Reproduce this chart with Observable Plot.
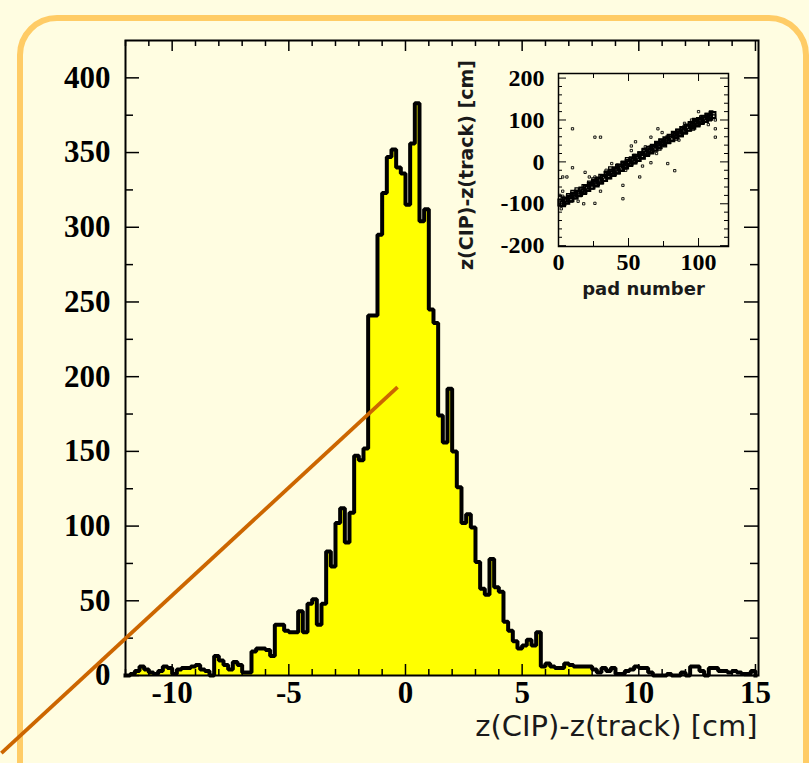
<!DOCTYPE html>
<html><head><meta charset="utf-8">
<script src="https://cdn.jsdelivr.net/npm/d3@7"></script>
<script src="https://cdn.jsdelivr.net/npm/@observablehq/plot@0.6"></script>
<style>
html,body{margin:0;padding:0;background:#FFFDE1;width:809px;height:763px;overflow:hidden;}
#border{position:absolute;left:17px;top:15px;width:780px;height:820px;border:6px solid #FFCC66;border-radius:40px;box-sizing:content-box;}
#main{position:absolute;left:0;top:0;}
#inset{position:absolute;left:440px;top:50px;}
svg{overflow:visible;}
</style></head><body>
<div id="border"></div><div id="main"></div><div id="inset"></div>
<script>
// ---- main histogram data ----
const binStart = -12;
const binWidth = 0.2;
const counts = [
  0,1,3,6,4,2,1,3,6,5,
  1,4,5,5,6,7,4,3,0,13,
  10,7,4,9,7,2,2,16,18,18,
  17,13,34,34,30,29,29,43,29,48,
  51,34,48,83,73,102,112,89,109,147,
  144,152,241,241,295,323,347,352,340,336,
  315,356,383,304,312,245,236,174,156,192,
  150,126,102,108,99,76,58,54,78,59,
  56,36,30,23,18,20,24,20,29,6,
  8,6,5,5,8,7,6,6,6,6,
  4,2,5,3,5,1,1,3,4,6,
  5,5,2,0,0,0,1,0,0,2,
  0,6,6,3,0,5,5,3,3,2,
  3,2,1,1,3
];
const fillEnd = 8;          // yellow fill up to this x
const xRange = [-12, 15.13];
const yRange = [0, 425];
const xMajor = [-10, -5, 0, 5, 10, 15];
const xLabels = ["-10", "-5", "0", "5", "10", "15"];
const xMinor = [-12,-11,-9,-8,-7,-6,-4,-3,-2,-1,1,2,3,4,6,7,8,9,11,12,13,14];
const yMajor = [0, 50, 100, 150, 200, 250, 300, 350, 400];
const yLabels = ["0", "50", "100", "150", "200", "250", "300", "350", "400"];
const yMinor = [25, 75, 125, 175, 225, 275, 325, 375];
const xTitle = "z(CIP)-z(track) [cm]";
const pointer = [{x1: -17.32, y1: -52, x2: -0.34, y2: 193}];

// ---- inset scatter data ----
const bandPad = [2,5,8,11,14,17,20,23,26,29,32,35,38,41,44,47,50,53,56,59,62,65,68,71,74,77,80,83,86,89,92,95,98,101,104,107,110];
const bandZ   = [-97,-92,-87,-80,-75,-68,-62,-57,-50,-44,-38,-31,-25,-20,-13,-7,-2,4,10,16,23,29,34,41,47,52,58,65,70,76,82,88,93,98,103,108,112];
const band2Pad = [3,6,9,12,15,18,21,24,27,30,33,36,39,42,45,48,51,54,57,60,63,66,69,72,75,78,81,84,87,90,93,96,99,102,105,108];
const band2Z   = [-100,-94,-88,-82,-76,-71,-64,-58,-53,-46,-40,-34,-28,-22,-16,-10,-4,2,8,13,20,26,32,38,44,50,55,62,67,73,80,85,90,96,101,106];
const nearPad = [3,4,7,9,10,12,13,16,18,19,22,24,25,28,30,31,34,36,37,40,42,43,46,48,49,52,54,55,58,60,61,64,66,67,70,72,73,76,78,79,82,84,85,88,90,91,94,96,97,100,102,103,106,108,109,111];
const nearZ   = [-88,-100,-80,-92,-72,-84,-66,-76,-58,-72,-50,-60,-42,-52,-34,-48,-26,-36,-16,-28,-10,-24,-2,-12,6,-4,14,2,20,12,28,20,34,26,42,32,50,40,58,48,66,56,74,64,82,72,90,80,100,90,106,96,112,102,118,108];
const outPad  = [10,26,30,55,71,78,83,10,3,6,19,22,26,26,46,46,58,3,3,2,112,112,112,107,52,52,62,66,83,34,42,38,48,74,90,100,60,66,86,30,14,18,1,70,95];
const outZ    = [79,59,59,48,79,-4,-21,-14,-36,-36,-25,-36,-36,-99,-88,-56,-36,-70,-82,-112,79,59,100,89,38,27,36,59,69,-20,-8,-4,-20,70,92,120,-10,-2,52,-70,-94,-100,-80,20,100];
const insetXTicks = [0, 50, 100];
const insetXLabels = ["0", "50", "100"];
const insetXMinor = [25, 75];
const insetYTicks = [-200, -100, 0, 100, 200];
const insetYLabels = ["-200", "-100", "0", "100", "200"];
const insetYMinor = [-180,-160,-140,-120,-80,-60,-40,-20,20,40,60,80,120,140,160,180];
const insetYTitle = "z(CIP)-z(track) [cm]";
const insetXTitle = "pad number";

// ---- build tables ----
const bins = counts.map((c, i) => ({x: +(binStart + i * binWidth).toFixed(2), y: c}));
const lastEdge = +(binStart + counts.length * binWidth).toFixed(2);
const fillPts = bins.filter(d => d.x < fillEnd - 1e-9);
fillPts.push({x: fillEnd, y: fillPts[fillPts.length - 1].y});
const outline = [{x: binStart, y: 0}, ...bins, {x: lastEdge, y: counts[counts.length - 1]}, {x: lastEdge, y: 0}];

const serif = "Liberation Serif";
const W = 809, H = 763, mL = 125, mR = 51, mT = 40, mB = 88;
const fw = W - mL - mR, fh = H - mT - mB;

const main = Plot.plot({
  width: W, height: H,
  marginLeft: mL, marginRight: mR, marginTop: mT, marginBottom: mB,
  style: {background: "transparent", overflow: "visible"},
  x: {domain: xRange, axis: null},
  y: {domain: yRange, axis: null},
  marks: [
    Plot.areaY(fillPts, {x: "x", y: "y", curve: "step-after", fill: "#FFFF00"}),
    Plot.line(outline, {x: "x", y: "y", curve: "step-after", stroke: "black", strokeWidth: 4, strokeLinejoin: "miter", strokeLinecap: "square"}),
    Plot.tickX(xMinor, {x: d => d, insetTop: fh - 6, stroke: "black", strokeWidth: 1.5}),
    Plot.tickX(xMajor, {x: d => d, insetTop: fh - 11, stroke: "black", strokeWidth: 1.5}),
    Plot.tickX(xMinor, {x: d => d, insetBottom: fh - 6, stroke: "black", strokeWidth: 1.5}),
    Plot.tickX(xMajor, {x: d => d, insetBottom: fh - 11, stroke: "black", strokeWidth: 1.5}),
    Plot.tickY(yMinor, {y: d => d, insetRight: fw - 8, stroke: "black", strokeWidth: 1.5}),
    Plot.tickY(yMajor, {y: d => d, insetRight: fw - 14, stroke: "black", strokeWidth: 1.5}),
    Plot.tickY(yMinor, {y: d => d, insetLeft: fw - 8, stroke: "black", strokeWidth: 1.5}),
    Plot.tickY(yMajor, {y: d => d, insetLeft: fw - 14, stroke: "black", strokeWidth: 1.5}),
    Plot.frame({stroke: "black", strokeWidth: 2}),
    Plot.text(xMajor, {x: d => d, text: (d, i) => xLabels[i], frameAnchor: "bottom", dy: 18, lineAnchor: "middle",
      fontSize: 31, fontWeight: "bold", fontFamily: serif, fill: "black"}),
    Plot.text(yMajor, {y: d => d, text: (d, i) => yLabels[i], frameAnchor: "left", dx: -15, textAnchor: "end", lineAnchor: "middle",
      fontSize: 31, fontWeight: "bold", fontFamily: serif, fill: "black"}),
    Plot.text([xTitle], {text: d => d, frameAnchor: "bottom-right", dy: 51, dx: -1, textAnchor: "end", lineAnchor: "middle",
      fontSize: 29, fontFamily: "DejaVu Sans", fill: "#1a1a1a"}),
    Plot.link(pointer, {x1: "x1", y1: "y1", x2: "x2", y2: "y2", stroke: "#CC6600", strokeWidth: 3.8})
  ]
});
document.getElementById("main").appendChild(main);

// ---- inset ----
const iW = 300, iH = 260, iL = 118, iR = 12, iT = 23, iB = 64;
const ifw = iW - iL - iR, ifh = iH - iT - iB;
const band = bandPad.map((p, i) => ({p, z: bandZ[i]}));
const band2 = band2Pad.map((p, i) => ({p, z: band2Z[i]}));
const near = nearPad.map((p, i) => ({p, z: nearZ[i]}));
const outl = outPad.map((p, i) => ({p, z: outZ[i]}));
const inset = Plot.plot({
  width: iW, height: iH,
  marginLeft: iL, marginRight: iR, marginTop: iT, marginBottom: iB,
  style: {background: "transparent", overflow: "visible"},
  x: {domain: [0, 121.4], axis: null},
  y: {domain: [-202, 211], axis: null},
  marks: [
    Plot.dot(outl, {x: "p", y: "z", symbol: "square", r: 1.3, stroke: "black", strokeWidth: 0.9, fill: "none"}),
    Plot.dot(near, {x: "p", y: "z", symbol: "square", r: 1.9, stroke: "black", strokeWidth: 1.2, fill: "none"}),
    Plot.dot(band2, {x: "p", y: "z", symbol: "square", r: 2.8, stroke: "black", strokeWidth: 1.8, fill: "none"}),
    Plot.dot(band, {x: "p", y: "z", symbol: "square", r: 3.3, stroke: "black", strokeWidth: 2, fill: "none"}),
    Plot.tickX(insetXMinor, {x: d => d, insetTop: ifh - 5, stroke: "black"}),
    Plot.tickX(insetXTicks, {x: d => d, insetTop: ifh - 8, stroke: "black"}),
    Plot.tickX(insetXMinor, {x: d => d, insetBottom: ifh - 5, stroke: "black"}),
    Plot.tickX(insetXTicks, {x: d => d, insetBottom: ifh - 8, stroke: "black"}),
    Plot.tickY(insetYMinor, {y: d => d, insetRight: ifw - 4, stroke: "black"}),
    Plot.tickY(insetYTicks, {y: d => d, insetRight: ifw - 8, stroke: "black"}),
    Plot.tickY(insetYMinor, {y: d => d, insetLeft: ifw - 4, stroke: "black"}),
    Plot.tickY(insetYTicks, {y: d => d, insetLeft: ifw - 8, stroke: "black"}),
    Plot.frame({stroke: "black", strokeWidth: 1.5}),
    Plot.text(insetXTicks, {x: d => d, text: (d, i) => insetXLabels[i], frameAnchor: "bottom", dy: 16, lineAnchor: "middle",
      fontSize: 24, fontWeight: "bold", fontFamily: serif, fill: "black"}),
    Plot.text(insetYTicks, {y: d => d, text: (d, i) => insetYLabels[i], frameAnchor: "left", dx: -14, textAnchor: "end", lineAnchor: "middle",
      fontSize: 24, fontWeight: "bold", fontFamily: serif, fill: "black"}),
    Plot.text([insetXTitle], {text: d => d, frameAnchor: "bottom", dy: 43, lineAnchor: "middle",
      fontSize: 18, fontWeight: "bold", fontFamily: "DejaVu Sans", fill: "#1a1a1a"}),
    Plot.text([insetYTitle], {text: d => d, frameAnchor: "left", dx: -92, dy: 5, rotate: -90, textAnchor: "middle", lineAnchor: "middle",
      fontSize: 19, fontWeight: "bold", fontFamily: "DejaVu Sans", fill: "#1a1a1a"})
  ]
});
document.getElementById("inset").appendChild(inset);
</script>
</body></html>
